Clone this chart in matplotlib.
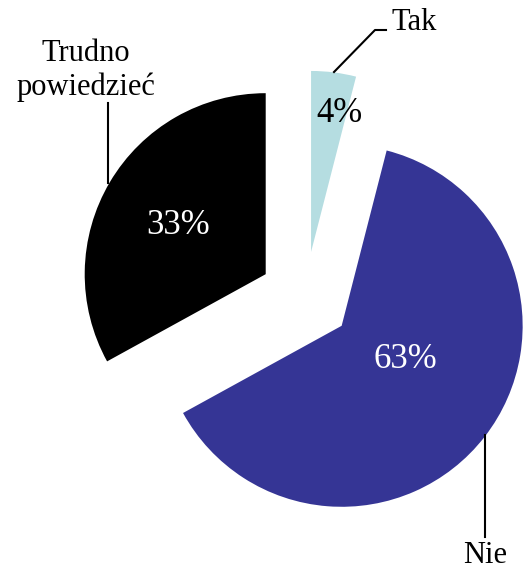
import numpy as np
import matplotlib
matplotlib.use("Agg")
import matplotlib.pyplot as plt

categories = ["Tak", "Nie", "Trudno\npowiedzieć"]
values = [4, 63, 33]
colors = ["#b5dde1", "#353595", "#000000"]
pct_colors = ["black", "white", "white"]

W, H = 525, 569
fig = plt.figure(figsize=(W / 100, H / 100), dpi=100)
ax = fig.add_axes([0, 0, 1, 1])

serif = ["Liberation Serif", "DejaVu Serif"]

R = 181
wedges, _ = ax.pie(values, colors=colors, startangle=90, counterclock=False,
                   explode=[46] * 3, radius=R, center=(305.3, H - 297.6),
                   wedgeprops=dict(linewidth=0), frame=True)
ax.set_xlim(0, W)
ax.set_ylim(0, H)
ax.set_aspect("equal")
ax.axis("off")

# percentage labels: (distance fraction, angle offset in degrees)
pct_pos = [(0.80, -4.3), (0.39, 12.0), (0.565, 0.0)]
for w, v, c, (d, off) in zip(wedges, values, pct_colors, pct_pos):
    th = np.deg2rad((w.theta1 + w.theta2) / 2 + off)
    cx, cy = w.center
    ax.text(cx + d * R * np.cos(th), cy + d * R * np.sin(th) - 3, f"{v}%",
            color=c, fontsize=25, family=serif, ha="center", va="center")

def Y(y):
    return H - y

# leader lines and outside labels
ax.plot([334, 375, 386], [Y(72), Y(30), Y(30)], color="black", lw=1.5)
ax.text(392, Y(30), categories[0], fontsize=22, family=serif, ha="left", va="baseline")

ax.plot([108, 108], [Y(103), Y(183)], color="black", lw=1.5)
ax.text(86, Y(95), categories[2], fontsize=22, family=serif, ha="center",
        va="baseline", linespacing=1.2, multialignment="center")

ax.plot([485, 485], [Y(435), Y(537)], color="black", lw=1.5)
ax.text(485, Y(563), categories[1], fontsize=22, family=serif, ha="center", va="baseline")

fig.savefig("out.png", dpi=100)
